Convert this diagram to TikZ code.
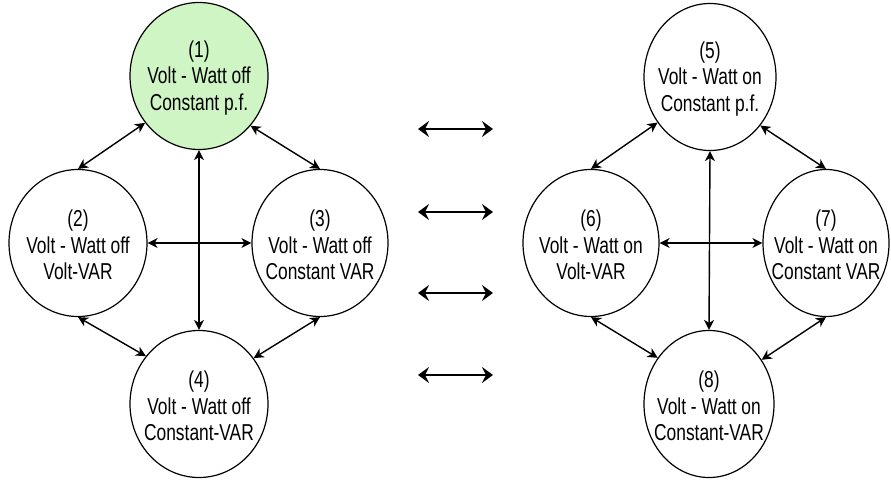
\documentclass[tikz,border=0pt]{standalone}
\usepackage{fontspec}
\setmainfont{Liberation Sans}[FakeStretch=0.755]
\usetikzlibrary{arrows.meta,shapes.geometric}
\definecolor{nodegreen}{RGB}{207,245,197}
\begin{document}
\begin{tikzpicture}[x=1pt,y=-1pt,
  st/.style={ellipse,draw,line width=1.2pt,minimum width=138pt,minimum height=147pt,inner sep=0pt},
  lbl/.style={font=\fontsize{23}{26.5}\selectfont,align=center,inner sep=0pt,yshift=-2pt},
  link/.style={line width=1.4pt,{Stealth[length=10pt,width=10pt,inset=3pt]}-{Stealth[length=10pt,width=10pt,inset=3pt]}},
  big/.style={line width=1.6pt,{Stealth[length=11pt,width=16pt,inset=4pt]}-{Stealth[length=11pt,width=16pt,inset=4pt]}}]
\useasboundingbox (0,0) rectangle (891,479);
% left group
\node[st,fill=nodegreen] (n1) at (199,76) {};
\node[lbl] (t1) at (n1) {(1)\\Volt - Watt off\\Constant p.f.};
\node[st] (n2) at (78,243) {};
\node[lbl] (t2) at (n2) {(2)\\Volt - Watt off\\Volt-VAR};
\node[st,minimum width=136pt] (n3) at (320,243) {};
\node[lbl] (t3) at (n3) {(3)\\Volt - Watt off\\Constant VAR};
\node[st] (n4) at (199,404) {};
\node[lbl] (t4) at (n4) {(4)\\Volt - Watt off\\Constant-VAR};
% right group
\node[st,minimum width=132pt] (n5) at (710,77) {};
\node[lbl] (t5) at (n5) {(5)\\Volt - Watt on\\Constant p.f.};
\node[st,minimum width=136pt] (n6) at (591,243) {};
\node[lbl] (t6) at (n6) {(6)\\Volt - Watt on\\Volt-VAR};
\node[st,minimum width=126pt] (n7) at (826,243) {};
\node[lbl] (t7) at (n7) {(7)\\Volt - Watt on\\Constant VAR};
\node[st,minimum width=130pt] (n8) at (709,404) {};
\node[lbl] (t8) at (n8) {(8)\\Volt - Watt on\\Constant-VAR};
% left links
\draw[link] (n1.221) -- (n2.north);
\draw[link] (n1.316) -- (n3.north);
\draw[link] (n2.south) -- (n4.138);
\draw[link] (n3.south) -- (n4.40);
\draw[link] (n1.south) -- (n4.north);
\draw[link] (n2.east) -- (n3.west);
% right links
\draw[link] (n5.221) -- (n6.north);
\draw[link] (n5.316) -- (n7.north);
\draw[link] (n6.south) -- (n8.138);
\draw[link] (n7.south) -- (n8.40);
\draw[link] (n5.south) -- (n8.north);
\draw[link] (n6.east) -- (n7.west);
% middle arrows
\coordinate (a1) at (418,129); \coordinate (b1) at (493,129);
\coordinate (a2) at (418,212); \coordinate (b2) at (493,212);
\coordinate (a3) at (418,293); \coordinate (b3) at (493,293);
\coordinate (a4) at (418,375); \coordinate (b4) at (493,375);
\draw[big] (a1) -- (b1);
\draw[big] (a2) -- (b2);
\draw[big] (a3) -- (b3);
\draw[big] (a4) -- (b4);
\end{tikzpicture}
\end{document}
